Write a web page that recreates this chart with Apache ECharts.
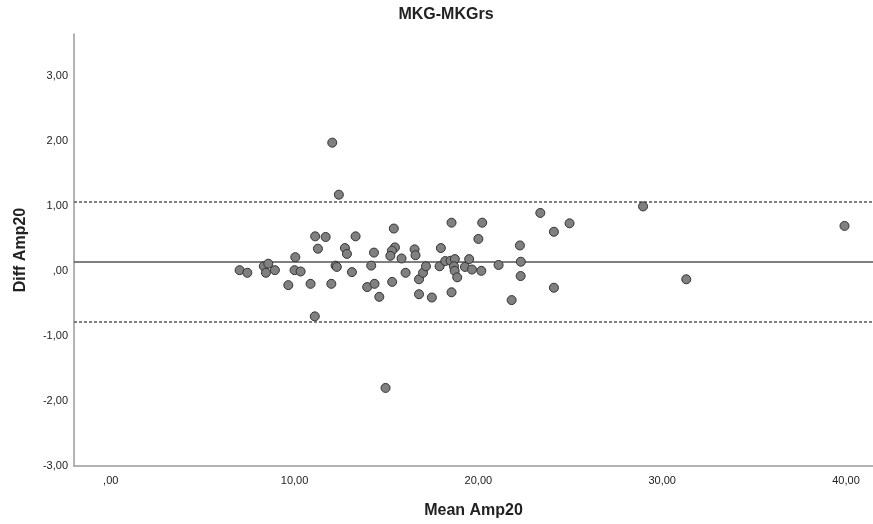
<!DOCTYPE html>
<html>
<head>
<meta charset="utf-8">
<script src="https://cdn.jsdelivr.net/npm/echarts@6/dist/echarts.min.js"></script>
<style>
html,body{margin:0;padding:0;background:#fff;}
#chart{width:873px;height:524px;}
</style>
</head>
<body>
<div id="chart"></div>
<script>
// Mean of the two measurements (x) and their difference (y)
var meanAmp = [7.01,7.43,8.33,8.57,8.44,8.93,9.66,10.04,10.00,10.33,10.87,11.12,11.27,11.69,11.10,12.00,12.23,12.30,12.41,12.74,12.85,13.12,13.32,13.95,14.35,14.17,14.32,14.61,15.40,15.46,15.30,15.21,15.31,15.82,16.04,16.53,16.58,16.77,16.77,
  16.99,17.15,17.47,17.96,17.89,18.20,18.49,18.54,18.54,18.72,18.67,18.71,18.85,19.27,19.50,19.65,20.00,20.21,20.16,21.10,21.81,22.26,22.31,22.30,23.37,24.11,24.11,24.96,
  28.96,31.31,39.92,12.05,14.95];
var diffAmp = [0.01,-0.03,0.07,0.11,-0.03,0.01,-0.22,0.21,0.01,-0.01,-0.20,0.53,0.34,0.52,-0.70,-0.20,0.08,0.06,1.17,0.35,0.26,-0.02,0.53,-0.25,-0.20,0.08,0.28,-0.40,0.65,0.36,0.31,0.23,-0.17,0.19,-0.03,0.33,0.24,-0.13,-0.36,
  -0.03,0.07,-0.41,0.35,0.07,0.15,0.155,0.74,-0.33,0.18,0.07,0.00,-0.10,0.06,0.18,0.02,0.49,0.74,0.00,0.09,-0.45,0.39,0.14,-0.08,0.89,0.60,-0.26,0.73,
  0.99,-0.13,0.69,1.97,-1.80];
var meanLine = [0.14];
var limitLines = [1.06, -0.78];
var xTicks = [0, 10, 20, 30, 40];
var yTicks = [-3, -2, -1, 0, 1, 2, 3];

function fmt(v){
  var s = Math.abs(v).toFixed(2).replace('.', ',');
  if (s.charAt(0) === '0') s = s.slice(1);
  return (v < 0 ? '-' : '') + s;
}

var pts = meanAmp.map(function(x, i){ return [x, diffAmp[i]]; });
var markData = meanLine.map(function(v){
  return {yAxis: v, lineStyle: {type: 'solid', color: '#555', width: 1.6}};
}).concat(limitLines.map(function(v){
  return {yAxis: v, lineStyle: {type: [3, 2], color: '#555', width: 1.6}};
}));

var chart = echarts.init(document.getElementById('chart'), null, {renderer: 'canvas'});
chart.setOption({
  animation: false,
  backgroundColor: '#fff',
  title: {
    text: 'MKG-MKGrs',
    left: 441, top: 2, textAlign: 'center',
    textStyle: {fontFamily: 'Liberation Sans, Arial, sans-serif', fontSize: 16, fontWeight: 'bold', color: '#222'}
  },
  grid: {left: 74, top: 34, right: 0, bottom: 56, containLabel: false},
  xAxis: {
    type: 'value', min: -2, max: 41.47,
    name: 'Mean Amp20', nameLocation: 'middle', nameGap: 37,
    nameTextStyle: {fontFamily: 'Liberation Sans, Arial, sans-serif', fontSize: 16, fontWeight: 'bold', color: '#222'},
    axisLine: {show: true, onZero: false, lineStyle: {color: '#9a9a9a', width: 1.5}},
    axisTick: {show: false},
    splitLine: {show: false},
    axisLabel: {customValues: xTicks, formatter: fmt, margin: 9, fontFamily: 'Liberation Sans, Arial, sans-serif', fontSize: 11, color: '#222'}
  },
  yAxis: {
    type: 'value', min: -3, max: 3.64,
    name: 'Diff Amp20', nameLocation: 'middle', nameGap: 45,
    nameTextStyle: {fontFamily: 'Liberation Sans, Arial, sans-serif', fontSize: 16, fontWeight: 'bold', color: '#222'},
    axisLine: {show: true, onZero: false, lineStyle: {color: '#9a9a9a', width: 1.5}},
    axisTick: {show: false},
    splitLine: {show: false},
    axisLabel: {customValues: yTicks, formatter: fmt, margin: 6, padding: [6, 0, 0, 0], fontFamily: 'Liberation Sans, Arial, sans-serif', fontSize: 11, color: '#222'}
  },
  series: [{
    type: 'scatter',
    data: pts,
    symbol: 'circle',
    symbolSize: 9,
    itemStyle: {color: '#808080', borderColor: '#333', borderWidth: 1, opacity: 1},
    z: 3,
    markLine: {
      silent: true,
      symbol: ['none', 'none'],
      label: {show: false},
      data: markData,
      z: 2
    }
  }]
});
</script>
</body>
</html>
